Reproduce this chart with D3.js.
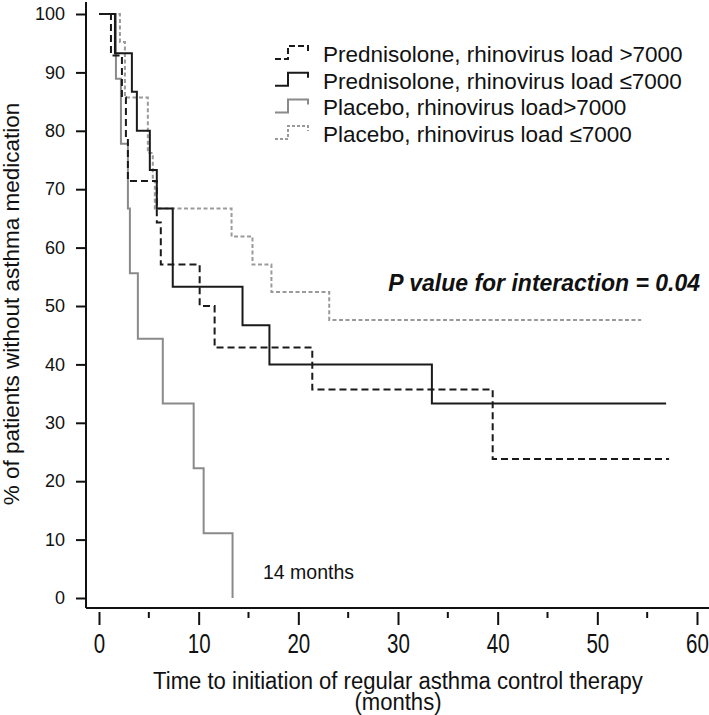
<!DOCTYPE html>
<html>
<head>
<meta charset="utf-8">
<script src="https://cdn.jsdelivr.net/npm/d3@7"></script>
<style>
  body { margin: 0; background: #fff; }
  svg { display: block; }
  text { font-family: "Liberation Sans", Arial, sans-serif; fill: #111; }
</style>
</head>
<body>
<div id="chart"></div>
<script>
const width = 709;
const height = 715;

// Kaplan-Meier step data: event times (months) and % without asthma medication
const predHighTimes = [0, 1.2, 2.3, 2.7, 2.9, 5.8, 6.2, 10.1, 11.6, 21.4, 39.5, 57.2];
const predHighValues = [100, 92.9, 85.7, 78.6, 71.4, 64.3, 57.1, 50, 42.9, 35.7, 23.8, 23.8];

const predLowTimes = [0, 1.6, 3.3, 3.8, 5.1, 5.8, 7.4, 14.4, 17.1, 33.4, 56.9];
const predLowValues = [100, 93.3, 86.7, 80, 73.3, 66.7, 53.3, 46.7, 40, 33.3, 33.3];

const placHighTimes = [0, 1.7, 2.2, 2.9, 3.1, 3.9, 6.4, 9.5, 10.5, 13.4];
const placHighValues = [100, 88.9, 77.8, 66.7, 55.6, 44.4, 33.3, 22.2, 11.1, 0];

const placLowTimes = [0, 2.1, 2.6, 4.9, 5.4, 5.6, 13.3, 15.4, 17.3, 23.1, 54.4];
const placLowValues = [100, 95.2, 85.7, 76.2, 71.4, 66.7, 61.9, 57.1, 52.4, 47.6, 47.6];

const legendLabels = [
    "Prednisolone, rhinovirus load >7000",
    "Prednisolone, rhinovirus load \u22647000",
    "Placebo, rhinovirus load>7000",
    "Placebo, rhinovirus load \u22647000"
];

const xTicks = [0, 10, 20, 30, 40, 50, 60];
const xMinorTicks = [5, 15, 25, 35, 45, 55];
const yTicks = [0, 10, 20, 30, 40, 50, 60, 70, 80, 90, 100];

// line styles, in legend order
const styles = [
    { color: "#1a1a1a", width: 2, dash: "7,4" },
    { color: "#1a1a1a", width: 2, dash: null },
    { color: "#8a8a8a", width: 2, dash: null },
    { color: "#9a9a9a", width: 2, dash: "4,2.5" }
];

const series = [
    { times: predHighTimes, values: predHighValues, style: styles[0] },
    { times: predLowTimes, values: predLowValues, style: styles[1] },
    { times: placHighTimes, values: placHighValues, style: styles[2] },
    { times: placLowTimes, values: placLowValues, style: styles[3] }
];

const svg = d3.select("#chart").append("svg")
    .attr("width", width)
    .attr("height", height);

const x = d3.scaleLinear().domain([0, 60]).range([99, 697]);
const y = d3.scaleLinear().domain([0, 100]).range([598, 14]);

const axisX0 = 86;
const axisY0 = 608;

// y axis
const yAxis = svg.append("g").attr("transform", `translate(${axisX0},0)`)
    .call(d3.axisLeft(y).tickValues(yTicks).tickSize(10).tickPadding(11));
yAxis.select(".domain").remove();
yAxis.selectAll(".tick line").attr("stroke", "#111").attr("stroke-width", 2);
yAxis.selectAll(".tick text")
    .style("font-size", "18px")
    .style("font-family", "'Liberation Sans', Arial, sans-serif")
    .attr("fill", "#111");
svg.append("line")
    .attr("x1", axisX0).attr("x2", axisX0)
    .attr("y1", 2).attr("y2", axisY0)
    .attr("stroke", "#111").attr("stroke-width", 2);

// x axis
svg.append("line")
    .attr("x1", axisX0).attr("x2", width)
    .attr("y1", axisY0).attr("y2", axisY0)
    .attr("stroke", "#111").attr("stroke-width", 2);
const xAxis = svg.append("g").attr("transform", `translate(0,${axisY0 + 4})`)
    .call(d3.axisBottom(x).tickValues(xTicks).tickSize(13).tickPadding(9));
xAxis.select(".domain").remove();
xAxis.selectAll(".tick line").attr("stroke", "#111").attr("stroke-width", 2);
// condensed digits, as in the original
xAxis.selectAll(".tick text")
    .style("font-size", "27px")
    .style("font-family", "'Liberation Sans', Arial, sans-serif")
    .attr("transform", "scale(0.76,1)")
    .attr("fill", "#111");
svg.append("g").attr("transform", `translate(0,${axisY0 + 4})`)
    .selectAll("line").data(xMinorTicks).enter().append("line")
    .attr("x1", d => x(d)).attr("x2", d => x(d))
    .attr("y1", 0).attr("y2", 6)
    .attr("stroke", "#111").attr("stroke-width", 2);

// survival curves, placebo first so prednisolone is on top
const line = d3.line()
    .x(d => x(d[0]))
    .y(d => y(d[1]))
    .curve(d3.curveStepAfter);

const drawOrder = [3, 2, 0, 1];
svg.append("g").selectAll("path")
    .data(drawOrder.map(i => series[i]))
    .enter().append("path")
    .attr("d", s => line(s.times.map((t, i) => [t, s.values[i]])))
    .attr("fill", "none")
    .attr("stroke", s => s.style.color)
    .attr("stroke-width", s => s.style.width)
    .attr("stroke-dasharray", s => s.style.dash);

// legend
const legend = svg.append("g").attr("transform", "translate(275,54)");
const rows = legend.selectAll("g").data(legendLabels).enter().append("g")
    .attr("transform", (d, i) => `translate(0,${i * 26.7})`);
rows.append("path")
    .attr("d", "M0,5H13V-8H33V-3")
    .attr("fill", "none")
    .attr("stroke", (d, i) => styles[i].color)
    .attr("stroke-width", 2)
    .attr("stroke-dasharray", (d, i) => styles[i].dash ? (i === 0 ? "6,3" : "3,2") : null);
rows.append("text")
    .attr("x", 48)
    .attr("y", 8)
    .style("font-size", "22.5px")
    .text(d => d);

// annotations
svg.append("text")
    .attr("x", 700).attr("y", 291)
    .attr("text-anchor", "end")
    .style("font-size", "23px")
    .style("font-weight", "bold")
    .style("font-style", "italic")
    .text("P value for interaction = 0.04");

svg.append("text")
    .attr("x", 263).attr("y", 579)
    .style("font-size", "19.5px")
    .text("14 months");

// axis titles
svg.append("g").attr("transform", "translate(398,0) scale(0.96,1)")
    .selectAll("text")
    .data(["Time to initiation of regular asthma control therapy", "(months)"])
    .enter().append("text")
    .attr("x", 0)
    .attr("y", (d, i) => 689 + i * 21)
    .attr("text-anchor", "middle")
    .style("font-size", "23px")
    .text(d => d);

svg.append("text")
    .attr("transform", "translate(19,304) rotate(-90)")
    .attr("text-anchor", "middle")
    .style("font-size", "22.5px")
    .text("% of patients without asthma medication");
</script>
</body>
</html>
